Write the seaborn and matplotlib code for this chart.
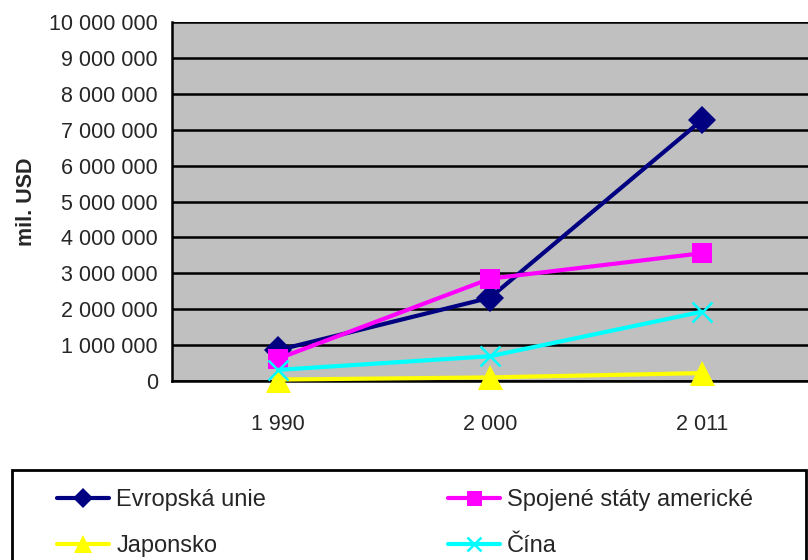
import matplotlib
matplotlib.use("Agg")
import matplotlib.pyplot as plt
import matplotlib.ticker as mticker
from matplotlib.patches import Rectangle
from matplotlib.lines import Line2D
import seaborn as sns
import pandas as pd

# data (mil. USD)
years = ["1 990", "2 000", "2 011"]
series_names = ["Evropská unie", "Spojené státy americké", "Japonsko", "Čína"]
eu = [860000, 2320000, 7270000]
usa = [620000, 2850000, 3560000]
japan = [40000, 100000, 220000]
china = [310000, 690000, 1930000]

colors = {"Evropská unie": "#000080", "Spojené státy americké": "#FF00FF",
          "Japonsko": "#FFFF00", "Čína": "#00FFFF"}
markers = {"Evropská unie": "D", "Spojené státy americké": "s",
           "Japonsko": "^", "Čína": "x"}
msizes = {"Evropská unie": 14, "Spojené státy americké": 15,
          "Japonsko": 18, "Čína": 14}

sns.set_style("white")
plt.rcParams['font.family'] = ['Liberation Sans', 'DejaVu Sans']

df = pd.DataFrame({
    "year": years * 4,
    "value": eu + usa + japan + china,
    "series": [s for s in series_names for _ in years],
})

fig = plt.figure(figsize=(8.08, 5.6), dpi=100)
ax = fig.add_axes([172 / 808, 1 - 381 / 560, 636 / 808, 359 / 560])
ax.set_facecolor("#C0C0C0")

for name in series_names:
    sub = df[df["series"] == name]
    sns.lineplot(data=sub, x="year", y="value", ax=ax, color=colors[name],
                 marker=markers[name], markersize=msizes[name], linewidth=3,
                 markeredgewidth=1.8 if name == "Čína" else 0,
                 markeredgecolor=colors[name], label=name, legend=False,
                 zorder=3, clip_on=False)

ax.set_xlim(-0.5, 2.5)
ax.set_ylim(0, 10000000)
ax.yaxis.set_major_locator(mticker.MultipleLocator(1000000))
ax.yaxis.set_major_formatter(mticker.FuncFormatter(
    lambda v, p: f"{v:,.0f}".replace(",", " ")))
ax.grid(axis="y", color="black", linewidth=1.8)
ax.set_axisbelow(True)

ax.set_xticks([0, 1, 2])
ax.set_xticklabels(years)
ax.set_xticks([-0.5, 0.5, 1.5, 2.5], minor=True)
ax.tick_params(axis="x", which="major", length=0, pad=24, labelsize=15.5)
ax.tick_params(axis="x", which="minor", length=6, width=1.5, color="black",
               direction="out")
ax.tick_params(axis="y", length=6, width=1.5, color="black", direction="out",
               labelsize=15.5, pad=4)

for side in ["top", "right"]:
    ax.spines[side].set_visible(False)
for side in ["left", "bottom"]:
    ax.spines[side].set_color("black")
    ax.spines[side].set_linewidth(1.8)

ax.set_xlabel("")
ax.set_ylabel("mil. USD", fontsize=15.5, fontweight="bold", labelpad=9)

# legend in a box below the chart
fig.patches.append(Rectangle((12 / 808, -0.05), 794 / 808, 0.05 + 1 - 470 / 560,
                             transform=fig.transFigure, fill=False,
                             edgecolor="black", linewidth=2))
order = ["Evropská unie", "Japonsko", "Spojené státy americké", "Čína"]
handles = [Line2D([], [], color=colors[n], marker=markers[n], linewidth=3,
                  markersize=msizes[n] * 0.72,
                  markeredgewidth=1.8 if n == "Čína" else 0,
                  markeredgecolor=colors[n]) for n in order]
fig.legend(handles, order, loc="upper left", ncol=2, frameon=False,
           bbox_to_anchor=(48 / 808, 1 - 480 / 560), fontsize=17,
           handlelength=2.2, handletextpad=0.3, columnspacing=7.7,
           labelspacing=1.0, borderaxespad=0)

fig.savefig("out.png", dpi=100)
